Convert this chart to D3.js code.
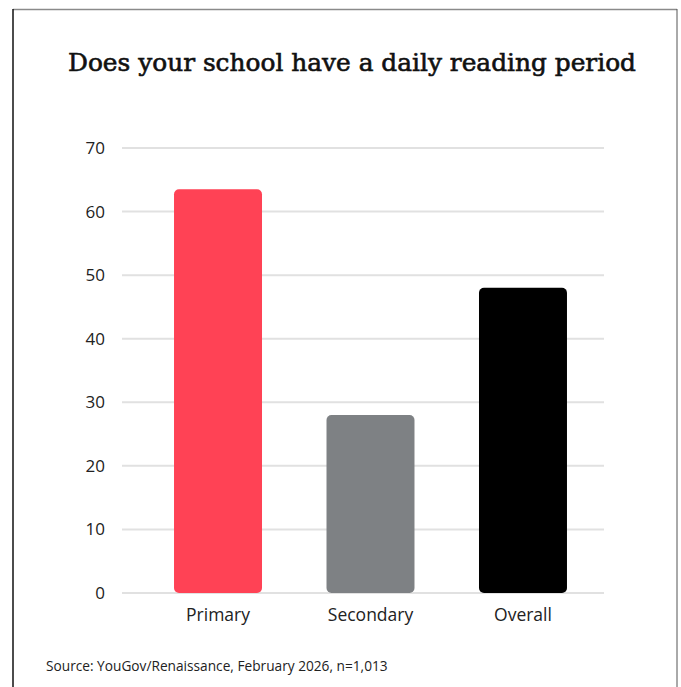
<!DOCTYPE html>
<html>
<head>
<meta charset="utf-8">
<script src="https://cdn.jsdelivr.net/npm/d3@7"></script>
<style>
  html, body { margin: 0; padding: 0; background: #fff; }
  svg { display: block; }
</style>
</head>
<body>
<svg id="chart" width="681" height="687"></svg>
<script>
// Survey responses: share of schools with a daily reading period (%)
const categories = ["Primary", "Secondary", "Overall"];
const values = [63.5, 28, 48];
const barColors = ["#ff4255", "#7e8184", "#000000"];
const yTicks = [0, 10, 20, 30, 40, 50, 60, 70];
const titleText = "Does your school have a daily reading period";
const sourceText = "Source: YouGov/Renaissance, February 2026, n=1,013";

const svg = d3.select("#chart");
const sans = "'Open Sans', 'Noto Sans', sans-serif";

// Frame around the card
svg.append("line").attr("x1", 13).attr("x2", 677).attr("y1", 9.5).attr("y2", 9.5)
  .attr("stroke", "#8a8a8a").attr("stroke-width", 1.5);
svg.append("line").attr("x1", 13).attr("x2", 13).attr("y1", 9).attr("y2", 687)
  .attr("stroke", "#111").attr("stroke-width", 1.5);
svg.append("line").attr("x1", 677).attr("x2", 677).attr("y1", 9).attr("y2", 687)
  .attr("stroke", "#555").attr("stroke-width", 1);

// Title: medium-weight serif
svg.append("text")
  .attr("x", 352).attr("y", 71)
  .attr("text-anchor", "middle")
  .attr("font-family", "'DejaVu Serif', serif")
  .attr("font-size", 24)
  .attr("textLength", 568)
  .attr("lengthAdjust", "spacingAndGlyphs")
  .attr("fill", "#111")
  .attr("stroke", "#111")
  .attr("stroke-width", 0.6)
  .text(titleText);

// Scales
const y = d3.scaleLinear().domain([0, 70]).range([593, 148]);
const x = d3.scaleBand().domain(categories).range([142, 599]).paddingInner(0.423).paddingOuter(0.21);

// Gridlines
svg.append("g").selectAll("line").data(yTicks).join("line")
  .attr("x1", 122).attr("x2", 604)
  .attr("y1", d => y(d)).attr("y2", d => y(d))
  .attr("stroke", "#e1e1e1").attr("stroke-width", 2);

// Y axis labels
const yAxis = d3.axisLeft(y).tickValues(yTicks).tickSize(0).tickPadding(0);
const yg = svg.append("g").attr("transform", "translate(105,0)").call(yAxis);
yg.select(".domain").remove();
yg.selectAll("text")
  .attr("font-family", sans).attr("font-size", 17).attr("fill", "#222");

// Bars
svg.append("g").selectAll("rect").data(categories).join("rect")
  .attr("x", d => x(d))
  .attr("width", x.bandwidth())
  .attr("y", (d, i) => y(values[i]))
  .attr("height", (d, i) => y(0) - y(values[i]))
  .attr("rx", 5).attr("ry", 5)
  .attr("fill", (d, i) => barColors[i]);

// X axis labels
const xAxis = d3.axisBottom(x).tickSize(0).tickPadding(0);
const xg = svg.append("g").attr("transform", "translate(0,609)").call(xAxis);
xg.select(".domain").remove();
xg.selectAll("text")
  .attr("font-family", sans).attr("font-size", 17.5).attr("fill", "#222");

// Source note
svg.append("text")
  .attr("x", 46).attr("y", 671)
  .attr("font-family", sans).attr("font-size", 13.7).attr("fill", "#222")
  .text(sourceText);
</script>
</body>
</html>
